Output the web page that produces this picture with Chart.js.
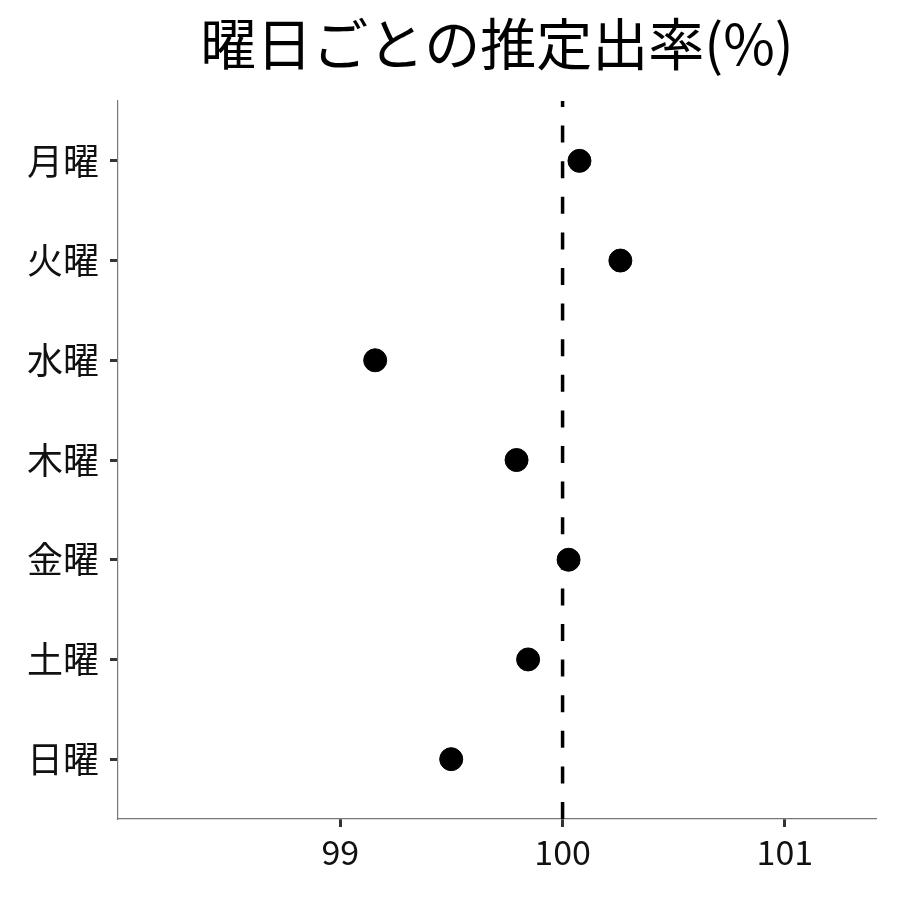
<!DOCTYPE html>
<html>
<head>
<meta charset="utf-8">
<script src="https://cdn.jsdelivr.net/npm/chart.js@4"></script>
<style>body{margin:0;background:#fff}</style>
</head>
<body>
<canvas id="ctx" width="900" height="900"></canvas>
<script>
"use strict";
// data
const days = ["月曜", "火曜", "水曜", "木曜", "金曜", "土曜", "日曜"];
const rates = [100.076, 100.26, 99.157, 99.793, 100.027, 99.845, 99.499];
const xTicks = [99, 100, 101];
const refValue = 100;

const font = "'Noto Sans CJK JP', 'Noto Sans', sans-serif";

let points = days.map((d, i) => ({ x: rates[i], y: i }));
// drawn bottom to top so the dash pattern starts at the x axis
let refLine = [{ x: refValue, y: days.length - 0.4 }, { x: refValue, y: -0.6 }];

let ctx = document.getElementById("ctx").getContext("2d");
const myChart = new Chart(ctx, {
  type: "scatter",
  data: {
    datasets: [
      {
        type: "line",
        data: refLine,
        borderColor: "#000",
        borderWidth: 3.5,
        borderDash: [17, 18.6],
        pointRadius: 0,
        fill: false,
      },
      {
        data: points,
        backgroundColor: "#000",
        borderColor: "#000",
        pointRadius: 11.5,
        pointHoverRadius: 11.5,
      },
    ],
  },
  options: {
    responsive: false,
    animation: false,
    layout: { padding: { top: 0, right: 24, bottom: 0, left: 0 } },
    plugins: {
      legend: { display: false },
      tooltip: { enabled: false },
      title: {
        display: true,
        fullSize: false,
        text: "曜日ごとの推定出率(%)",
        color: "#000",
        font: { family: font, size: 56, weight: "normal", lineHeight: 1.2 },
        padding: { top: 10, bottom: 23.8 },
      },
    },
    scales: {
      x: {
        type: "linear",
        min: 98.0,
        max: 101.41,
        afterBuildTicks: (scale) => {
          scale.ticks = xTicks.map((v) => ({ value: v }));
        },
        afterFit: (scale) => {
          scale.height = 81;
        },
        border: { display: true, color: "#777", width: 1.2 },
        grid: {
          drawOnChartArea: false,
          drawTicks: true,
          tickLength: 8,
          tickColor: "#333",
          tickWidth: 3,
        },
        ticks: {
          color: "#111",
          padding: 5,
          font: { family: font, size: 34 },
          callback: (v) => String(v),
        },
      },
      y: {
        type: "linear",
        reverse: true,
        min: -0.6,
        max: days.length - 0.4,
        afterBuildTicks: (scale) => {
          scale.ticks = days.map((d, i) => ({ value: i }));
        },
        afterFit: (scale) => {
          scale.width = 118;
        },
        border: { display: true, color: "#777", width: 1.2 },
        grid: {
          drawOnChartArea: false,
          drawTicks: true,
          tickLength: 8,
          tickColor: "#333",
          tickWidth: 3,
        },
        ticks: {
          color: "#111",
          padding: 11,
          font: { family: font, size: 36 },
          callback: (v) => days[v],
        },
      },
    },
  },
});
</script>
</body>
</html>
